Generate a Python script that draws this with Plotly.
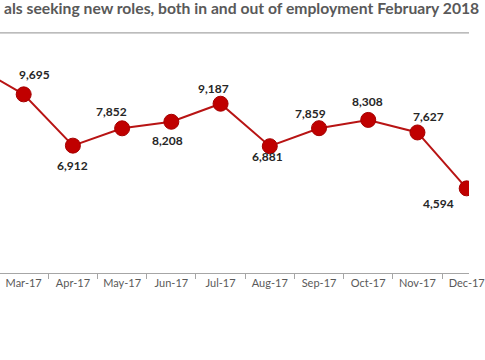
import plotly.graph_objects as go

months = ["Feb-17", "Mar-17", "Apr-17", "May-17", "Jun-17", "Jul-17",
          "Aug-17", "Sep-17", "Oct-17", "Nov-17", "Dec-17"]
seekers = [11240, 9695, 6912, 7852, 8208, 9187, 6881, 7859, 8308, 7627, 4594]
title_text = "als seeking new roles, both in and out of employment February 2018"

# label offsets in pixels (styling)
label_dx = [0, 11, 0, -11, -4, -7, -2, -9, -1, 11, -28]
label_dy = [20, 20, -20, 17, -19, 15, -10, 15, 18, 16, -15]

fig = go.Figure()
fig.add_trace(go.Scatter(
    x=months, y=seekers, mode="lines+markers",
    line=dict(color="#B81414", width=2),
    marker=dict(size=15, color="#C00000", line=dict(color="#A50000", width=1)),
    hoverinfo="skip", showlegend=False,
))

for m, v, dx, dy in zip(months[1:], seekers[1:], label_dx[1:], label_dy[1:]):
    fig.add_annotation(x=m, y=v, text=f"{v:,}", showarrow=False,
                       xshift=dx, yshift=dy,
                       font=dict(family="Lato", size=12, color="#262626", weight="bold"))

fig.add_annotation(xref="paper", yref="paper", x=0.0, y=1, xanchor="left", yanchor="middle",
                   text=title_text, showarrow=False, yshift=32, xshift=2,
                   font=dict(family="Lato", size=15.7, color="#595959", weight="bold"))

fig.add_shape(type="line", xref="paper", yref="paper", x0=0, x1=1, y0=1.031, y1=1.031,
              line=dict(color="#A6A6A6", width=1.2))

fig.update_layout(
    width=485, height=360, autosize=False,
    margin=dict(l=0, r=0, t=40, b=87),
    paper_bgcolor="white", plot_bgcolor="white",
    font=dict(family="Lato"),
    xaxis=dict(type="category", range=[0.519, 10.047], tickson="boundaries",
               ticks="outside", ticklen=5, tickcolor="#A6A6A6",
               showline=True, linecolor="#A6A6A6", linewidth=1,
               showgrid=False, zeroline=False,
               tickfont=dict(family="Lato", size=11, color="#595959")),
    yaxis=dict(range=[0, 12645], visible=False, showgrid=False, zeroline=False),
)

post = ("document.documentElement.style.margin='0';"
        "document.body.style.margin='0';document.body.style.overflow='hidden';"
        "document.documentElement.style.overflow='hidden';"
        "var gd=document.getElementById('{plot_id}');"
        "gd.style.width='485px';gd.style.height='360px';"
        "function fixSize(){var fl=gd._fullLayout;"
        "if(fl&&(fl.width!==485||fl.height!==360)){Plotly.relayout(gd,{width:485,height:360,autosize:false});}}"
        "fixSize();var n=0;var iv=setInterval(function(){fixSize();n+=1;if(n>30){clearInterval(iv);}},50);")

fig.write_html("out.html",
               config={"displayModeBar": False, "responsive": False, "staticPlot": True},
               post_script=post)
